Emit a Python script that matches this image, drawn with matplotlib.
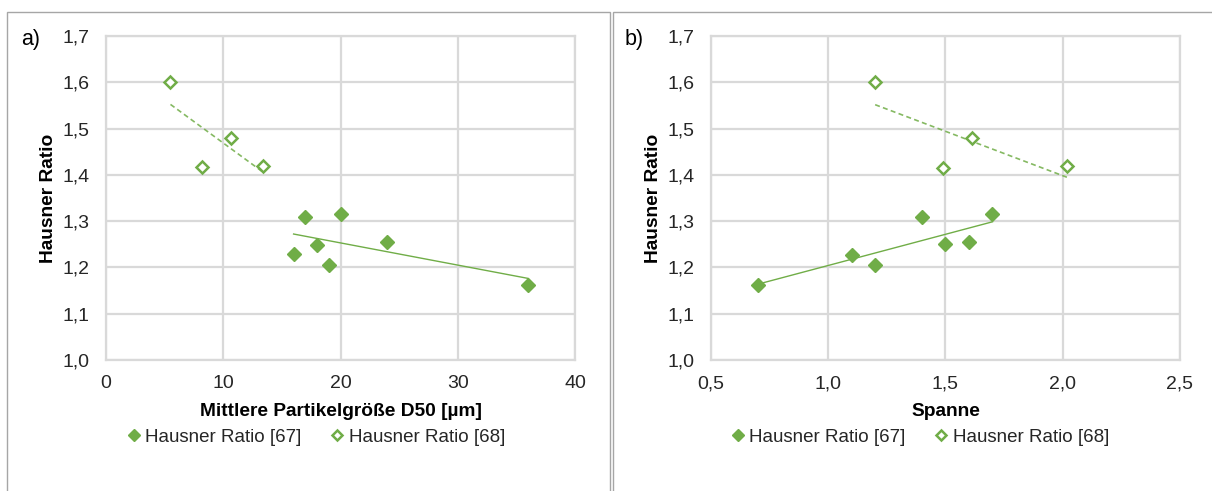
import matplotlib.pyplot as plt
import numpy as np
from matplotlib.patches import Rectangle

plt.rcParams['font.family'] = ['Liberation Sans', 'DejaVu Sans']

### data ###
# Hausner Ratio [67]
d50_67 = [16, 17, 18, 19, 20, 24, 36]
hr_a_67 = [1.228, 1.309, 1.249, 1.205, 1.315, 1.254, 1.163]
span_67 = [0.70, 1.10, 1.20, 1.40, 1.50, 1.60, 1.70]
hr_b_67 = [1.163, 1.226, 1.206, 1.310, 1.251, 1.255, 1.315]
# Hausner Ratio [68]
d50_68 = [5.5, 8.2, 10.7, 13.4]
hr_a_68 = [1.600, 1.417, 1.480, 1.419]
span_68 = [1.20, 1.49, 1.615, 2.02]
hr_b_68 = [1.600, 1.415, 1.480, 1.419]

green = '#70ad47'
grid = '#d9d9d9'
txt = '#262626'

fig = plt.figure(figsize=(12.12, 4.91), dpi=100)
W, H = 1212, 491

# panel frames
fig.patches.append(Rectangle((7 / W, -0.01), (610 - 7) / W, 1 - 12 / H + 0.01,
                             transform=fig.transFigure, fill=False,
                             edgecolor='#a6a6a6', lw=1))
fig.patches.append(Rectangle((613 / W, -0.01), (1215 - 613) / W, 1 - 12 / H + 0.01,
                             transform=fig.transFigure, fill=False,
                             edgecolor='#a6a6a6', lw=1))


def panel(left, right, x67, y67, x68, y68, xlim, xticks, xfmt, xlabel, tag, tagx, legx):
    ax = fig.add_axes([left / W, (H - 360) / H, (right - left) / W, (360 - 36) / H])
    ax.set_xlim(*xlim)
    ax.set_ylim(1.0, 1.7)
    ax.set_xticks(xticks)
    ax.set_yticks(np.arange(1.0, 1.71, 0.1))
    ax.set_xticklabels([xfmt(v).replace('.', ',') for v in xticks])
    ax.set_yticklabels([f'{v:.1f}'.replace('.', ',') for v in np.arange(1.0, 1.71, 0.1)])
    ax.grid(True, color=grid, lw=1.6)
    ax.set_axisbelow(True)
    for s in ax.spines.values():
        s.set_color(grid)
        s.set_linewidth(1.6)
    ax.tick_params(length=0, labelsize=14, colors=txt, pad=12)
    ax.tick_params(axis='x', pad=11)

    # trend lines
    p = np.polyfit(x67, y67, 1)
    xs = np.array([min(x67), max(x67)])
    ax.plot(xs, np.polyval(p, xs), color=green, lw=1.0)
    p = np.polyfit(x68, y68, 1)
    xs = np.array([min(x68), max(x68)])
    ax.plot(xs, np.polyval(p, xs), color=green, lw=1.2, ls=(0, (3, 2)), alpha=0.85)

    ax.plot(x67, y67, 'D', color=green, ms=7.5, mec=green, label='Hausner Ratio [67]')
    ax.plot(x68, y68, 'D', color=green, ms=6.5, mfc='white', mec=green, mew=1.8,
            label='Hausner Ratio [68]')

    ax.set_xlabel(xlabel, fontsize=13.8, fontweight='bold', labelpad=8, color='black')
    ax.set_ylabel('Hausner Ratio', fontsize=13.8, fontweight='bold', labelpad=4,
                  color='black')
    h, l = ax.get_legend_handles_labels()
    ax.legend(h, l, loc='center', bbox_to_anchor=((legx - left) / (right - left), -0.238),
              ncol=2, frameon=False, fontsize=13.5, handletextpad=0.0, columnspacing=1.3,
              handlelength=1.2, markerscale=0.75, labelcolor=txt)
    fig.text(tagx / W, 1 - 39 / H, tag, fontsize=15.5, color='black', va='center')
    return ax


panel(106, 575, d50_67, hr_a_67, d50_68, hr_a_68, (0, 40), [0, 10, 20, 30, 40],
      lambda v: f'{v:d}', 'Mittlere Partikelgröße D50 [µm]', 'a)', 21, 314)
panel(711, 1180, span_67, hr_b_67, span_68, hr_b_68, (0.5, 2.5),
      [0.5, 1.0, 1.5, 2.0, 2.5], lambda v: f'{v:.1f}', 'Spanne', 'b)', 625, 918)

plt.savefig('out.png', dpi=100)
